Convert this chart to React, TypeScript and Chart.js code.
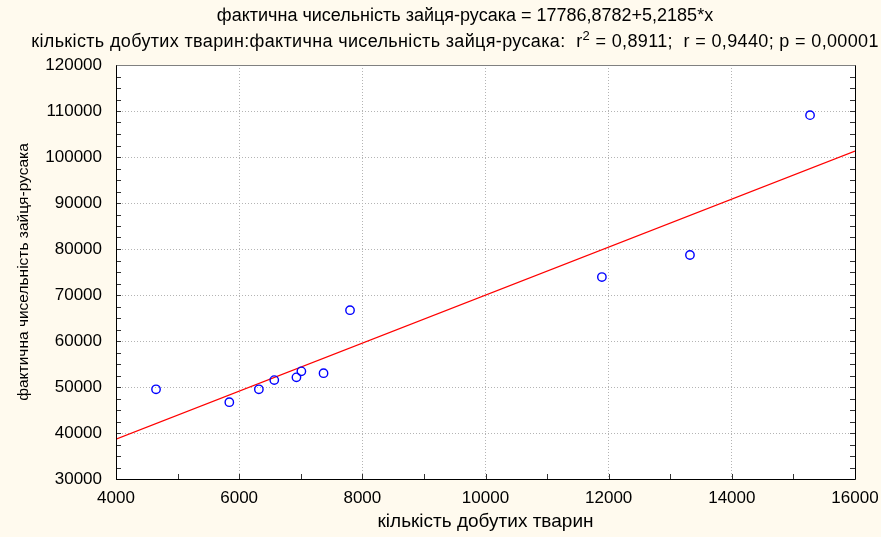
import React, { useEffect, useRef } from 'react';
import { Chart, registerables } from 'chart.js';

Chart.register(...registerables);

// ---- data ----
const harvested = [4650, 5840, 6320, 6570, 6930, 7010, 7370, 7800, 11890, 13320, 15270];
const hareCount = [49500, 46700, 49500, 51500, 52100, 53400, 53000, 66700, 73900, 78700, 109100];

const FIT_INTERCEPT = 17786.8782;
const FIT_SLOPE = 5.2185;

const X_MIN = 4000;
const X_MAX = 16000;
const X_STEP = 2000;
const X_MINOR = 1000;
const Y_MIN = 30000;
const Y_MAX = 120000;
const Y_STEP = 10000;
const Y_MINOR = 2500;

const TITLE_LINE_1 = 'фактична чисельність зайця-русака = 17786,8782+5,2185*x';
const TITLE_LINE_2_PARTS = [
  'кількість добутих тварин:фактична чисельність зайця-русака:  r',
  '2',
  ' = 0,8911;  r = 0,9440; p = 0,00001',
];
const X_TITLE = 'кількість добутих тварин';
const Y_TITLE = 'фактична чисельність зайця-русака';

const FONT = '"Liberation Sans", Arial, sans-serif';
const BG = '#fffaee';

const decorPlugin = {
  id: 'decor',
  beforeDraw(chart: any) {
    const { ctx, chartArea: a } = chart;
    ctx.save();
    ctx.fillStyle = BG;
    ctx.fillRect(0, 0, chart.width, chart.height);
    ctx.fillStyle = '#ffffff';
    ctx.fillRect(a.left, a.top, a.right - a.left, a.bottom - a.top);
    ctx.restore();
  },
  afterDraw(chart: any) {
    const { ctx, chartArea: a } = chart;
    const xs = chart.scales.x;
    const ys = chart.scales.y;
    ctx.save();
    // minor ticks (inward)
    ctx.strokeStyle = '#333333';
    ctx.lineWidth = 1;
    ctx.beginPath();
    for (let v = Y_MIN; v <= Y_MAX; v += Y_MINOR) {
      const py = Math.round(ys.getPixelForValue(v)) + 0.5;
      ctx.moveTo(a.left, py);
      ctx.lineTo(a.left + 5, py);
      ctx.moveTo(a.right, py);
      ctx.lineTo(a.right - 5, py);
    }
    for (let v = X_MIN; v <= X_MAX; v += X_MINOR) {
      const px = Math.round(xs.getPixelForValue(v)) + 0.5;
      ctx.moveTo(px, a.bottom);
      ctx.lineTo(px, a.bottom - 5);
    }
    ctx.stroke();
    // frame
    const l = Math.round(a.left) + 0.5;
    const r = Math.round(a.right) + 0.5;
    const t = Math.round(a.top) + 0.5;
    const b = Math.round(a.bottom) + 0.5;
    ctx.strokeStyle = '#808080';
    ctx.beginPath();
    ctx.moveTo(l, t);
    ctx.lineTo(r, t);
    ctx.stroke();
    ctx.strokeStyle = '#000000';
    ctx.beginPath();
    ctx.moveTo(l, t);
    ctx.lineTo(l, b);
    ctx.lineTo(r, b);
    ctx.lineTo(r, t);
    ctx.stroke();

    // titles
    ctx.fillStyle = '#000000';
    ctx.textBaseline = 'middle';
    ctx.textAlign = 'center';
    ctx.font = `18px ${FONT}`;
    ctx.fillText(TITLE_LINE_1, 465, 16);

    ctx.textAlign = 'left';
    ctx.letterSpacing = '0.35px';
    const small = `13px ${FONT}`;
    const big = `18px ${FONT}`;
    ctx.font = big;
    const w0 = ctx.measureText(TITLE_LINE_2_PARTS[0]).width;
    const w2 = ctx.measureText(TITLE_LINE_2_PARTS[2]).width;
    ctx.font = small;
    const w1 = ctx.measureText(TITLE_LINE_2_PARTS[1]).width;
    let x = 455 - (w0 + w1 + w2) / 2;
    ctx.font = big;
    ctx.fillText(TITLE_LINE_2_PARTS[0], x, 42);
    x += w0;
    ctx.font = small;
    ctx.fillText(TITLE_LINE_2_PARTS[1], x, 36);
    x += w1;
    ctx.font = big;
    ctx.fillText(TITLE_LINE_2_PARTS[2], x, 42);
    ctx.letterSpacing = '0px';
    ctx.restore();
  },
};

export default function App() {
  const ref = useRef<HTMLCanvasElement | null>(null);

  useEffect(() => {
    document.body.style.margin = '0';
    const canvas = ref.current;
    if (!canvas) return;

    const points = harvested.map((x, i) => ({ x, y: hareCount[i] }));
    const fit = [X_MIN, X_MAX].map((x) => ({ x, y: FIT_INTERCEPT + FIT_SLOPE * x }));

    const chart = new Chart(canvas, {
      type: 'scatter',
      data: {
        datasets: [
          {
            label: 'points',
            data: points,
            pointRadius: 4.2,
            pointHoverRadius: 4.2,
            pointBorderWidth: 1.4,
            borderColor: '#0000ff',
            backgroundColor: 'rgba(0,0,0,0)',
            pointStyle: 'circle',
            order: 0,
          },
          {
            label: 'fit',
            data: fit,
            showLine: true,
            borderColor: '#ff0000',
            borderWidth: 1.2,
            pointRadius: 0,
            order: 1,
          } as any,
        ],
      },
      options: {
        animation: false,
        responsive: false,
        events: [],
        layout: { padding: { top: 65, right: 26, left: 0, bottom: 0 } },
        plugins: {
          legend: { display: false },
          tooltip: { enabled: false },
          title: { display: false },
        },
        scales: {
          x: {
            type: 'linear',
            min: X_MIN,
            max: X_MAX,
            afterFit: (s: any) => {
              s.height = 58;
              s.paddingLeft = 0;
              s.paddingRight = 0;
            },
            ticks: {
              stepSize: X_STEP,
              padding: 9,
              color: '#000000',
              font: { family: FONT, size: 17 },
              callback: (v: any) => String(v),
            },
            grid: { color: '#b4b4b4', lineWidth: 1, drawTicks: false },
            border: { display: false, dash: [1, 2] },
            title: {
              display: true,
              text: X_TITLE,
              color: '#000000',
              font: { family: FONT, size: 19 },
              padding: { top: 0, bottom: 4 },
            },
          },
          y: {
            type: 'linear',
            min: Y_MIN,
            max: Y_MAX,
            afterFit: (s: any) => {
              s.width = 116;
              s.paddingTop = 0;
              s.paddingBottom = 0;
            },
            ticks: {
              stepSize: Y_STEP,
              padding: 14,
              color: '#000000',
              font: { family: FONT, size: 17 },
              callback: (v: any) => String(v),
            },
            grid: { color: '#b4b4b4', lineWidth: 1, drawTicks: false },
            border: { display: false, dash: [1, 2] },
            title: {
              display: true,
              text: Y_TITLE,
              color: '#000000',
              font: { family: FONT, size: 15.5 },
              padding: { top: 14, bottom: 0 },
            },
          },
        },
      },
      plugins: [decorPlugin],
    });

    return () => chart.destroy();
  }, []);

  return (
    <div style={{ position: 'absolute', left: 0, top: 0, width: 881, height: 537 }}>
      <canvas ref={ref} width={881} height={537} style={{ display: 'block', width: 881, height: 537 }} />
    </div>
  );
}
